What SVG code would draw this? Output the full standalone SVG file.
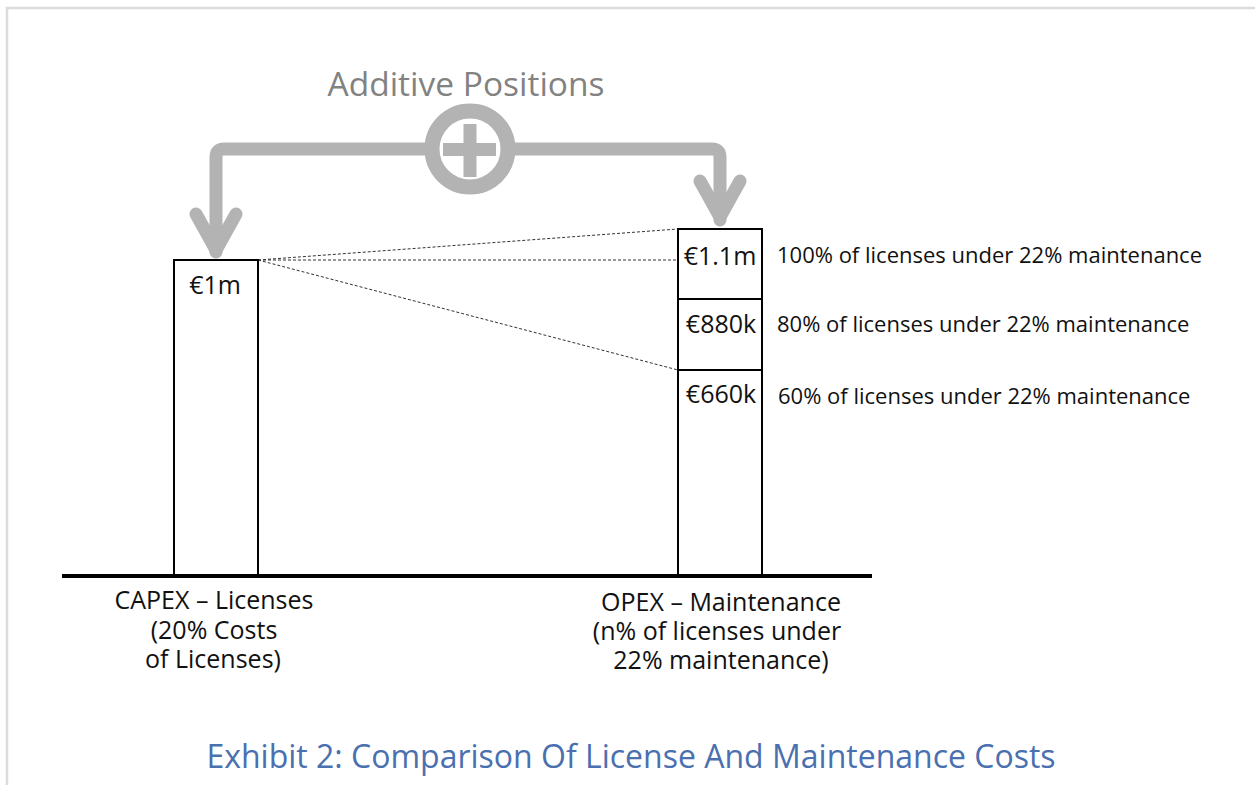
<svg xmlns="http://www.w3.org/2000/svg" width="1255" height="785" viewBox="0 0 1255 785">
<style>
  .t{font-family:"Open Sans","Noto Sans","Liberation Sans",sans-serif;fill:#111}
  .v{font-size:25px}
  .s{font-size:22px}
  .box{fill:#fff;stroke:#000;stroke-width:2}
  .dash{stroke:#333;stroke-width:1;stroke-dasharray:3 2;fill:none}
  .gray{stroke:#b3b3b3;fill:none;stroke-width:13;stroke-linecap:round;stroke-linejoin:round}
</style>
<rect width="1255" height="785" fill="#fff"/>
<path d="M7 785 V8 H1255" fill="none" stroke="#dcdcdc" stroke-width="2.5"/>
<text x="466" y="96" text-anchor="middle" class="t" style="font-size:33.5px;fill:#828282">Additive Positions</text>
<g id="connectors">
  <path class="gray" d="M216 252 V157 Q216 149 224 149 H712 Q720 149 720 157 V220"/>
  <path class="gray" d="M196 214 L216 250 L236 214"/>
  <path class="gray" d="M700 181 L720 217 L740 181"/>
  <line class="dash" x1="258" y1="260" x2="678" y2="229"/>
  <line class="dash" x1="258" y1="260" x2="678" y2="260"/>
  <line class="dash" x1="258" y1="260" x2="678" y2="370"/>
</g>
<g id="plus">
  <circle cx="470" cy="149" r="38" fill="#fff" stroke="#b3b3b3" stroke-width="15"/>
  <rect x="443" y="143" width="53" height="13" fill="#b3b3b3"/>
  <rect x="463.5" y="124" width="13" height="53" fill="#b3b3b3"/>
</g>
<g id="capex">
  <rect class="box" x="174" y="260" width="84" height="316"/>
  <text x="215" y="294" text-anchor="middle" class="t v">€1m</text>
  <text x="214" y="609" text-anchor="middle" class="t v">CAPEX – Licenses</text>
  <text x="214" y="639" text-anchor="middle" class="t v">(20% Costs</text>
  <text x="213" y="668" text-anchor="middle" class="t v">of Licenses)</text>
</g>
<g id="opex">
  <rect class="box" x="678" y="229" width="84" height="347"/>
  <line x1="678" y1="299" x2="762" y2="299" stroke="#000" stroke-width="2"/>
  <line x1="678" y1="370" x2="762" y2="370" stroke="#000" stroke-width="2"/>
  <text x="720" y="265" text-anchor="middle" class="t v">€1.1m</text>
  <text x="721" y="333" text-anchor="middle" class="t v">€880k</text>
  <text x="721" y="403" text-anchor="middle" class="t v">€660k</text>
  <text x="721" y="611" text-anchor="middle" class="t v">OPEX – Maintenance</text>
  <text x="717" y="640" text-anchor="middle" class="t v">(n% of licenses under</text>
  <text x="721" y="669" text-anchor="middle" class="t v">22% maintenance)</text>
</g>
<g id="labels">
  <text x="777" y="263" class="t s">100% of licenses under 22% maintenance</text>
  <text x="777" y="332" class="t s">80% of licenses under 22% maintenance</text>
  <text x="778" y="404" class="t s">60% of licenses under 22% maintenance</text>
</g>
<line x1="62" y1="576" x2="872" y2="576" stroke="#000" stroke-width="4"/>
<text x="631" y="768" text-anchor="middle" class="t" style="font-size:32px;fill:#4a70b0">Exhibit 2: Comparison Of License And Maintenance Costs</text>
</svg>
